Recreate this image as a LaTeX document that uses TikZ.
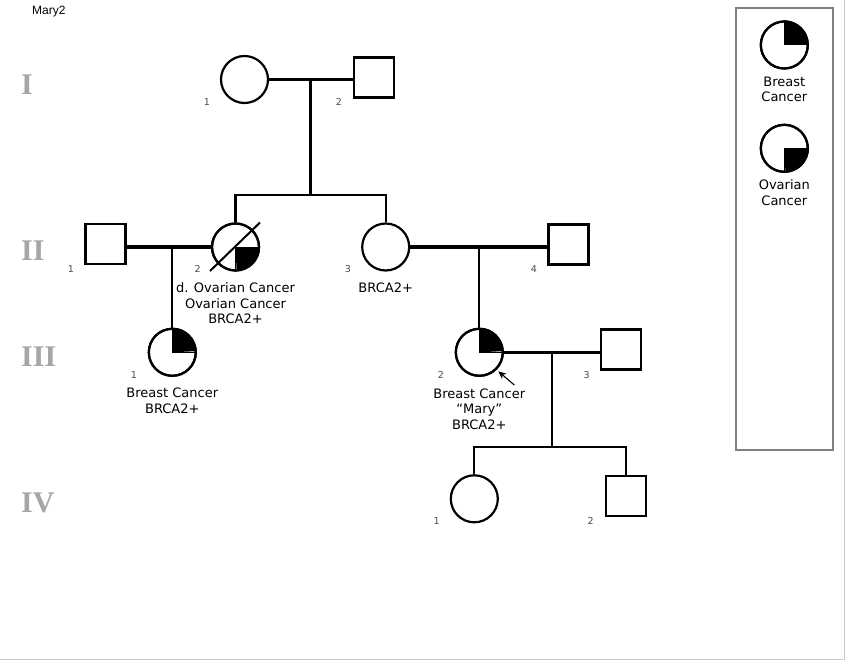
\documentclass[tikz,border=0pt]{standalone}
\usepackage{fontspec}
\setmainfont{DejaVu Sans}
\newfontfamily\arialfont{Liberation Sans}
\newfontfamily\genfont{Liberation Serif}
\usetikzlibrary{arrows.meta}
\begin{document}
\begin{tikzpicture}[x=1pt,y=1pt,
  fem/.style={circle,draw,line width=2.2pt,minimum size=47pt,inner sep=0pt,fill=white},
  mal/.style={rectangle,draw,line width=2.2pt,minimum size=40pt,inner sep=0pt,fill=white},
  mline/.style={line width=3.6pt},
  dline/.style={line width=2.2pt},
  num/.style={font=\fontsize{9.5}{11}\selectfont,text=black!70,inner sep=0pt},
  info/.style={font=\fontsize{13}{15.5}\selectfont,align=center,inner sep=0pt},
  gen/.style={font=\genfont\bfseries\fontsize{30}{30}\selectfont,text=black!35,anchor=west,inner sep=0pt},
  leg/.style={font=\fontsize{13}{15.5}\selectfont,align=center,inner sep=0pt}
]
\useasboundingbox (0,0) rectangle (845,-660);
\fill[white] (0,0) rectangle (845,-660);
\draw[black!20,line width=1.5pt] (0,-659.25) -- (844.25,-659.25) -- (844.25,0);

\node[font=\arialfont\fontsize{12}{14}\selectfont,anchor=west,inner sep=0pt] (title) at (32,-12) {Mary2};

% generation labels
\node[gen] (gI) at (21,-85) {I};
\node[gen] (gII) at (21,-251) {II};
\node[gen] (gIII) at (21,-357) {III};
\node[gen] (gIV) at (21,-503) {IV};

% Generation I
\node[fem] (I1) at (244.5,-79.5) {};
\node[mal] (I2) at (374,-77.5) {};
\node[num] (nI1) at (207,-102) {1};
\node[num] (nI2) at (339,-102) {2};
\coordinate (mI) at (310.5,-79.5);
\coordinate (sI) at (310.5,-195);
\coordinate (sIL) at (235.5,-195);
\coordinate (sIR) at (385.7,-195);

% Generation II
\node[mal] (II1) at (105.5,-244) {};
\node[fem] (II2) at (235.5,-247) {};
\node[fem] (II3) at (385.7,-247) {};
\node[mal] (II4) at (568.5,-244.5) {};
\node[num] (nII1) at (71,-269) {1};
\node[num] (nII2) at (197.7,-269) {2};
\node[num] (nII3) at (348,-269) {3};
\node[num] (nII4) at (534,-269) {4};
\coordinate (mII1) at (172.3,-247);
\coordinate (mII2) at (479.3,-247);

% Generation III
\node[fem] (III1) at (172.3,-352.3) {};
\node[fem] (III2) at (479.3,-352.3) {};
\node[mal] (III3) at (621.3,-349.5) {};
\node[num] (nIII1) at (134,-375) {1};
\node[num] (nIII2) at (441,-375) {2};
\node[num] (nIII3) at (586.7,-375) {3};
\coordinate (mIII) at (551.7,-352.3);
\coordinate (sIII) at (551.7,-447);
\coordinate (sIIIL) at (474.3,-447);
\coordinate (sIIIR) at (626,-447);

% Generation IV
\node[fem] (IV1) at (474.3,-498.8) {};
\node[mal] (IV2) at (626,-496.3) {};
\node[num] (nIV1) at (436.7,-521) {1};
\node[num] (nIV2) at (590.7,-521) {2};

% connectors
\draw[mline] (I1.east) -- (I1.east -| I2.west);
\draw[dline] (mI) -- (sI);
\draw[dline] ([xshift=-1.1pt]sIL) -- ([xshift=1.1pt]sIR);
\draw[dline] (sIL) -- (II2.north);
\draw[dline] (sIR) -- (II3.north);
\draw[mline] (II2.west -| II1.east) -- (II2.west);
\draw[dline] (mII1) -- (III1.north);
\draw[mline] (II3.east) -- (II3.east -| II4.west);
\draw[dline] (mII2) -- (III2.north);
\draw[mline] (III2.east) -- (III2.east -| III3.west);
\draw[dline] (mIII) -- (sIII);
\draw[dline] ([xshift=-1.1pt]sIIIL) -- ([xshift=1.1pt]sIIIR);
\draw[dline] (sIIIL) -- (IV1.north);
\draw[dline] (sIIIR) -- (IV2.north);

% quadrant fills
\fill (II2.center) -- (II2.east) arc[start angle=0,end angle=-90,radius=23.5pt] -- cycle;
\draw[line width=1pt] (II2.south) -- (II2.center) -- (II2.east);
\fill (III1.center) -- (III1.north) arc[start angle=90,end angle=0,radius=23.5pt] -- cycle;
\draw[line width=1pt] (III1.north) -- (III1.center) -- (III1.east);
\fill (III2.center) -- (III2.north) arc[start angle=90,end angle=0,radius=23.5pt] -- cycle;
\draw[line width=1pt] (III2.north) -- (III2.center) -- (III2.east);
% redraw outlines
\draw[line width=2.2pt] (II2) circle[radius=23.5pt];
\draw[line width=2.2pt] (III1) circle[radius=23.5pt];
\draw[line width=2.2pt] (III2) circle[radius=23.5pt];

% deceased slash
\draw[line width=2pt] ([shift={(-25.5pt,-24pt)}]II2.center) -- ([shift={(24.5pt,24.5pt)}]II2.center);

% info texts
\node[info] (tII2) at (235.5,-303.5) {d. Ovarian Cancer\\Ovarian Cancer\\BRCA2+};
\node[info] (tII3) at (385.7,-288) {BRCA2+};
\node[info] (tIII1) at (172.3,-401) {Breast Cancer\\BRCA2+};
\node[info] (tIII2) at (479.3,-409) {Breast Cancer\\“Mary”\\BRCA2+};

% proband arrow
\coordinate (pa) at (514.3,-385);
\draw[line width=1.1pt,-{Stealth[length=8pt,width=7pt]}] (pa) -- ([shift={(19pt,-19pt)}]III2.center);

% legend
\draw[black!50,line width=2pt] (736,-8.3) rectangle (833.3,-450);
\node[fem] (L1) at (784.3,-45) {};
\fill (L1.center) -- (L1.north) arc[start angle=90,end angle=0,radius=23.5pt] -- cycle;
\draw[line width=1pt] (L1.north) -- (L1.center) -- (L1.east);
\draw[line width=2.2pt] (L1) circle[radius=23.5pt];
\node[leg] (tL1) at (784.3,-89.5) {Breast\\Cancer};
\node[fem] (L2) at (784.3,-148.3) {};
\fill (L2.center) -- (L2.east) arc[start angle=0,end angle=-90,radius=23.5pt] -- cycle;
\draw[line width=1pt] (L2.south) -- (L2.center) -- (L2.east);
\draw[line width=2.2pt] (L2) circle[radius=23.5pt];
\node[leg] (tL2) at (784.3,-192.5) {Ovarian\\Cancer};
\end{tikzpicture}
\end{document}
